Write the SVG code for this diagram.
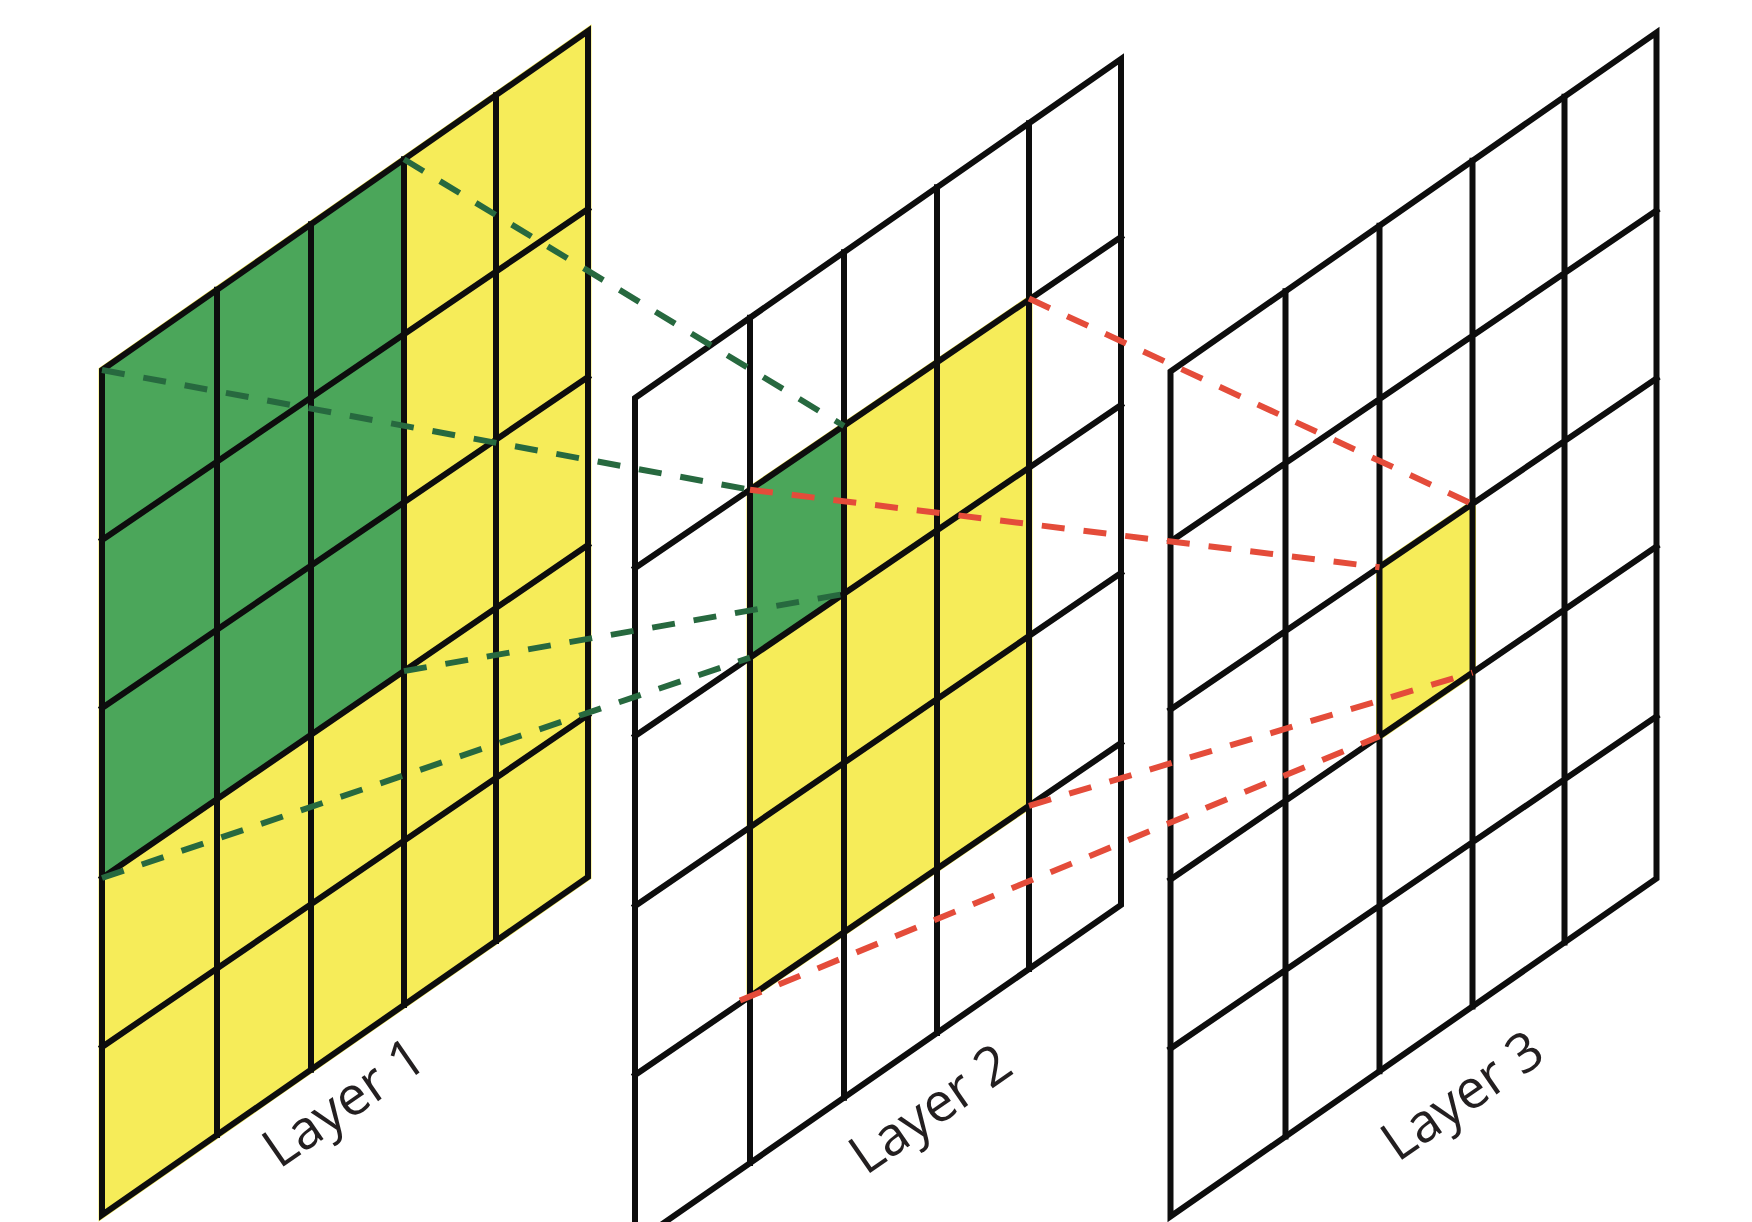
<svg xmlns="http://www.w3.org/2000/svg" width="1752" height="1222" viewBox="0 0 1752 1222">
<style>
.grid{fill:none;stroke:#0d0d0d;stroke-width:6;stroke-linejoin:miter;stroke-linecap:square}
.yel{fill:#f6ec59;stroke:#f6ec59;stroke-width:7;stroke-linejoin:miter}
.grn{fill:#4ba65a}
.lbl{font-family:"Open Sans","Noto Sans","Liberation Sans",sans-serif;font-size:54px;fill:#231f20;text-anchor:middle}
.dg{fill:none;stroke:#27693f;stroke-width:6;stroke-dasharray:23 19}
.dr{fill:none;stroke:#e44c3a;stroke-width:6;stroke-dasharray:23 19}
</style>
<rect width="1752" height="1222" fill="#fff"/>

<g id="layer1">
  <polygon class="yel" points="102,370 588,31 588,877 102,1215"/>
  <polygon class="grn" points="102,370 404,159.3 404,671.1 102,878"/>
  <polygon class="grid" points="102,370 588,31 588,877 102,1215"/>
  <path class="grid" d="M217,289.8V1135 M311,224.2V1069.7 M404,159.3V1005 M496,95.2V941 M102,540L588,209 M102,708L588,377 M102,878L588,545 M102,1047L588,715"/>
  <text class="lbl" x="354.3" y="1117.5" transform="rotate(-34.7 354.3 1117.5)">Layer 1</text>
</g>

<g id="layer2">
  <g transform="translate(533,28)">
    <polygon points="102,370 588,31 588,877 102,1215" fill="#fff"/>
    <polygon class="yel" points="217,461.7 496,271.7 496,777.8 217,968.4"/>
    <polygon class="grn" points="217,461.7 311,397.7 311,565.7 217,629.7"/>
    <polygon class="grid" points="102,370 588,31 588,877 102,1215"/>
    <path class="grid" d="M217,289.8V1135 M311,224.2V1069.7 M404,159.3V1005 M496,95.2V941 M102,540L588,209 M102,708L588,377 M102,878L588,545 M102,1047L588,715"/>
  </g>
  <text class="lbl" x="940.9" y="1124.1" transform="rotate(-34.7 940.9 1124.1)">Layer 2</text>
</g>

<g id="layer3">
  <g transform="translate(1068.5,1.5)">
    <polygon points="102,370 588,31 588,877 102,1215" fill="#fff"/>
    <polygon class="yel" points="311,565.7 404,502.3 404,671.1 311,734.8"/>
    <polygon class="grid" points="102,370 588,31 588,877 102,1215"/>
    <path class="grid" d="M217,289.8V1135 M311,224.2V1069.7 M404,159.3V1005 M496,95.2V941 M102,540L588,209 M102,708L588,377 M102,878L588,545 M102,1047L588,715"/>
  </g>
  <text class="lbl" x="1472.9" y="1110.8" transform="rotate(-34.7 1472.9 1110.8)">Layer 3</text>
</g>

<g id="connectors">
  <line class="dg" x1="404" y1="159.3" x2="844" y2="426"/>
  <line class="dg" x1="102" y1="370" x2="750" y2="489.7"/>
  <line class="dg" x1="404" y1="671.1" x2="844" y2="594"/>
  <line class="dg" x1="102" y1="878" x2="750" y2="657.7"/>
  <line class="dr" x1="1029" y1="298.5" x2="1472.5" y2="504"/>
  <line class="dr" x1="750" y1="489.7" x2="1379.5" y2="567.2"/>
  <line class="dr" x1="1029" y1="805.8" x2="1472.5" y2="672.6"/>
  <line class="dr" x1="740" y1="1000.5" x2="1379.5" y2="736.3"/>
</g>
</svg>
